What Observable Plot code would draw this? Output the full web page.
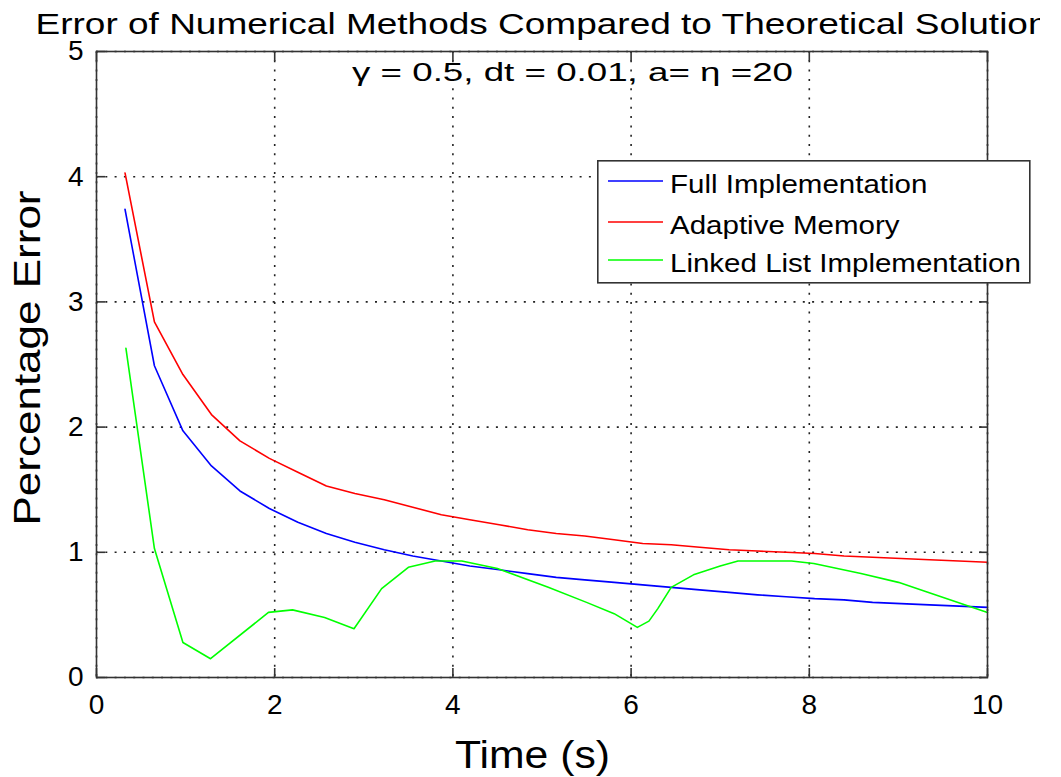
<!DOCTYPE html>
<html><head><meta charset="utf-8">
<script src="https://cdn.jsdelivr.net/npm/d3@7"></script>
<script src="https://cdn.jsdelivr.net/npm/@observablehq/plot@0.6"></script>
<style>
body{margin:0;background:#fff;}
#chart{position:relative;width:1061px;height:777px;overflow:hidden;font-family:"Liberation Sans",Arial,Helvetica,sans-serif;}
</style></head><body><div id="chart"></div>
<script>
const titleText = "Error of Numerical Methods Compared to Theoretical Solution";
const subtitleText = "γ = 0.5, dt = 0.01, a= η =20";
const xLabel = "Time (s)";
const yLabel = "Percentage Error";
const xTicks = [0, 2, 4, 6, 8, 10];
const yTicks = [0, 1, 2, 3, 4, 5];
const seriesNames = ["Full Implementation", "Adaptive Memory", "Linked List Implementation"];
const seriesColors = ["#0000ff", "#ff0000", "#00ff00"];

const timeSmooth = [0.32,0.65,0.97,1.29,1.61,1.94,2.26,2.58,2.90,3.23,3.55,3.87,4.19,4.52,4.84,5.16,5.48,5.81,6.13,6.45,6.77,7.10,7.42,7.74,8.06,8.39,8.71,9.03,9.35,9.68,10.0];
const fullError = [3.74,2.49,1.97,1.69,1.49,1.35,1.24,1.15,1.08,1.02,0.97,0.93,0.89,0.86,0.83,0.80,0.78,0.76,0.74,0.72,0.70,0.68,0.66,0.645,0.63,0.62,0.60,0.59,0.58,0.57,0.56];
const adaptiveError = [4.03,2.84,2.42,2.10,1.89,1.75,1.64,1.53,1.47,1.42,1.36,1.30,1.26,1.22,1.18,1.15,1.13,1.10,1.07,1.06,1.04,1.02,1.01,1.00,0.99,0.97,0.96,0.95,0.94,0.93,0.92];
const linkedTime = [0.33,0.65,0.97,1.28,1.93,2.2,2.56,2.89,3.2,3.5,3.8,4.1,4.5,5.07,5.5,5.81,6.07,6.2,6.3,6.45,6.7,7.0,7.2,7.8,8.05,8.58,9.0,9.33,10.0];
const linkedError = [2.63,1.03,0.28,0.15,0.52,0.54,0.48,0.39,0.71,0.88,0.93,0.93,0.87,0.72,0.60,0.51,0.40,0.45,0.55,0.72,0.82,0.89,0.93,0.93,0.91,0.83,0.76,0.68,0.52];

const rows = [
  ...timeSmooth.map((t, i) => ({t, v: fullError[i], s: seriesNames[0]})),
  ...timeSmooth.map((t, i) => ({t, v: adaptiveError[i], s: seriesNames[1]})),
  ...linkedTime.map((t, i) => ({t, v: linkedError[i], s: seriesNames[2]}))
];

const font = '"Liberation Sans", Arial, Helvetica, sans-serif';
const axisColor = "#333";
const intFmt = d3.format("d");

const plot = Plot.plot({
  width: 1061,
  height: 777,
  marginLeft: 96,
  marginRight: 74,
  marginTop: 51,
  marginBottom: 100,
  style: {fontFamily: font, fontSize: "28px", color: "black", background: "white"},
  x: {domain: [0, 10]},
  y: {domain: [0, 5]},
  color: {domain: seriesNames, range: seriesColors},
  marks: [
    Plot.gridX(xTicks, {stroke: "#222", strokeOpacity: 1, strokeWidth: 1.6, strokeDasharray: "2,7.3"}),
    Plot.gridY(yTicks, {stroke: "#222", strokeOpacity: 1, strokeWidth: 1.6, strokeDasharray: "2,7.3"}),
    Plot.text([subtitleText], {frameAnchor: "top", textAnchor: "middle", lineAnchor: "bottom", dy: 29, dx: 30.5, fontSize: 26, fill: "black"}),
    Plot.line(rows, {x: "t", y: "v", z: "s", stroke: "s", strokeWidth: 1.6}),
    Plot.frame({stroke: axisColor, strokeWidth: 1.6}),
    Plot.axisX(xTicks, {anchor: "bottom", tickSize: -9, tickFormat: () => "", label: null, stroke: axisColor, strokeWidth: 1.6}),
    Plot.axisX(xTicks, {anchor: "top", tickSize: -9, tickFormat: () => "", label: null, stroke: axisColor, strokeWidth: 1.6}),
    Plot.axisY(yTicks, {anchor: "left", tickSize: -9, tickFormat: () => "", label: null, stroke: axisColor, strokeWidth: 1.6}),
    Plot.axisY(yTicks, {anchor: "right", tickSize: -9, tickFormat: () => "", label: null, stroke: axisColor, strokeWidth: 1.6}),
    Plot.axisX(xTicks, {anchor: "bottom", tickSize: 0, tickPadding: 17, tickFormat: intFmt, fontSize: 28, label: null, fill: "black"}),
    Plot.axisY(yTicks, {anchor: "left", tickSize: 0, tickPadding: 13, tickFormat: intFmt, fontSize: 28, label: null, fill: "black"}),
    Plot.text([xLabel], {frameAnchor: "bottom", textAnchor: "middle", lineAnchor: "bottom", dy: 90, dx: -9.5, fontSize: 38, fill: "black"}),
    Plot.text([yLabel], {frameAnchor: "left", textAnchor: "middle", lineAnchor: "bottom", rotate: -90, dx: -57, dy: -6.5, fontSize: 37, fill: "black"}),
    Plot.text([titleText], {frameAnchor: "top", textAnchor: "middle", lineAnchor: "bottom", dy: -18, fontSize: 29, fill: "black"})
  ]
});

const container = document.getElementById("chart");
container.appendChild(plot);

const svg = d3.select(plot);
function fitText(str, len) {
  svg.selectAll("text").filter(function() { return this.textContent === str; })
    .attr("textLength", len).attr("lengthAdjust", "spacingAndGlyphs");
}
fitText(titleText, 1013);
fitText(subtitleText, 441);
fitText(xLabel, 155);
fitText(yLabel, 335);

// clip the title at the right, as in the original
const clipId = "title-clip";
svg.append("defs").append("clipPath").attr("id", clipId)
  .append("rect").attr("x", 0).attr("y", 0).attr("width", 1040).attr("height", 48);
const titleNode = svg.selectAll("text").filter(function() { return this.textContent === titleText; }).node();
if (titleNode) {
  const wrap = svg.append("g").attr("clip-path", `url(#${clipId})`);
  const grp = titleNode.closest("g[aria-label]") || titleNode.parentNode;
  wrap.node().appendChild(grp);
}

// MATLAB-style legend box inside the axes
const legend = d3.select(container).append("svg")
  .attr("width", 434).attr("height", 124)
  .style("position", "absolute").style("left", "597px").style("top", "160px")
  .style("overflow", "visible");
legend.append("rect").attr("x", 0.8).attr("y", 0.8).attr("width", 432).attr("height", 122)
  .attr("fill", "white").attr("stroke", axisColor).attr("stroke-width", 1.6);
const rowY = [21, 62, 100];
seriesNames.forEach((name, i) => {
  legend.append("line").attr("x1", 11).attr("x2", 66).attr("y1", rowY[i]).attr("y2", rowY[i])
    .attr("stroke", seriesColors[i]).attr("stroke-width", 1.6);
  const t = legend.append("text").attr("x", 73).attr("y", rowY[i] + 12)
    .attr("font-family", font).attr("font-size", 25).attr("fill", "black").text(name);
  const natural = t.node().getComputedTextLength();
  t.attr("textLength", natural * 1.18).attr("lengthAdjust", "spacingAndGlyphs");
});
</script>
</body></html>
